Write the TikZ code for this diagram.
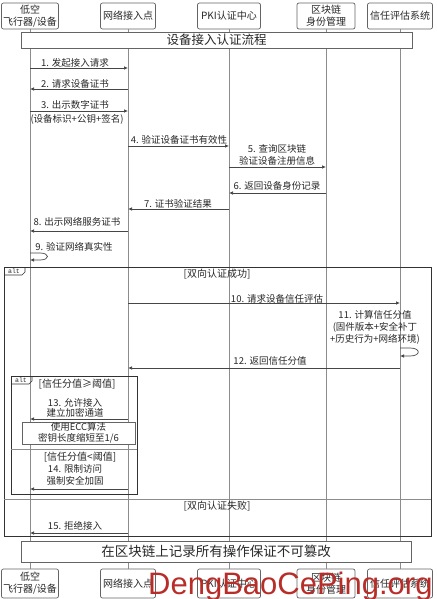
\documentclass[tikz,border=0pt]{standalone}
\usepackage{fontspec}
\setmainfont{Noto Sans CJK SC}
\newfontfamily\wmfont{Liberation Sans}
\newfontfamily\tagfont{Liberation Mono}
\usetikzlibrary{arrows.meta}
\definecolor{lifegray}{RGB}{140,140,140}
\definecolor{boxgray}{RGB}{100,100,100}
\definecolor{msggray}{RGB}{70,70,70}
\definecolor{framegray}{RGB}{50,50,50}
\definecolor{txt}{RGB}{40,40,40}
\definecolor{wmred}{RGB}{185,45,40}
\tikzset{
  part/.style={draw=boxgray, line width=0.7pt, rounded corners=2pt, fill=white, align=center,
    inner sep=0pt, text=txt, font=\fontsize{10}{12}\selectfont},
  life/.style={draw=lifegray, line width=0.8pt},
  msg/.style={draw=msggray, line width=0.7pt, -{Latex[length=4pt,width=3.5pt]}},
  lbl/.style={inner sep=0pt, align=center, text=txt, font=\fontsize{9.5}{12}\selectfont},
  frm/.style={draw=framegray, line width=0.7pt},
  sep/.style={draw=lifegray, line width=0.7pt},
  banner/.style={draw=boxgray, line width=0.7pt, fill=white, inner sep=0pt, text=txt},
  guard/.style={inner sep=0pt, text=txt, font=\fontsize{10}{12}\selectfont},
  tagtxt/.style={inner sep=0pt, text=txt, font=\tagfont\fontsize{6.5}{7}\selectfont}
}
\begin{document}
\begin{tikzpicture}[x=1pt,y=-1pt]
\useasboundingbox[fill=white] (0,0) rectangle (436,599);

% participants top
\node[part, minimum width=57, minimum height=26] (devT) at (30,16) {低空\\飞行器/设备};
\node[part, minimum width=55, minimum height=26] (netT) at (128,16) {网络接入点};
\node[part, minimum width=63, minimum height=26] (pkiT) at (229,16) {PKI认证中心};
\node[part, minimum width=58, minimum height=26] (bcT) at (326,16) {区块链\\身份管理};
\node[part, minimum width=65, minimum height=26] (trT) at (400,16) {信任评估系统};
% participants bottom
\node[part, minimum width=57, minimum height=29] (devB) at (30,583.5) {低空\\飞行器/设备};
\node[part, minimum width=55, minimum height=29] (netB) at (128,583.5) {网络接入点};
\node[part, minimum width=63, minimum height=29] (pkiB) at (229,583.5) {PKI认证中心};
\node[part, minimum width=58, minimum height=29] (bcB) at (326,583.5) {区块链\\身份管理};
\node[part, minimum width=65, minimum height=29] (trB) at (400,583.5) {信任评估系统};

% lifelines
\draw[life] (devT.south) -- (devB.north);
\draw[life] (netT.south) -- (netB.north);
\draw[life] (pkiT.south) -- (pkiB.north);
\draw[life] (bcT.south) -- (bcB.north);
\draw[life] (trT.south) -- (trB.north);

% title banner
\node[banner, minimum width=391, minimum height=16, font=\fontsize{12.5}{14}\selectfont] (title) at (216.5,40) {设备接入认证流程};

% messages 1-9
\draw[msg] (devT.south |- 0,68) -- (netT.south |- 0,68);
\node[lbl] (l1) at (75,63) {1. 发起接入请求};
\draw[msg] (netT.south |- 0,89) -- (devT.south |- 0,89);
\node[lbl] (l2) at (75,83.5) {2. 请求设备证书};
\draw[msg] (devT.south |- 0,111) -- (netT.south |- 0,111);
\node[lbl] (l3) at (75,104.5) {3. 出示数字证书};
\node[lbl] (l3b) at (77,119.5) {(设备标识+公钥+签名)};
\draw[msg] (netT.south |- 0,146) -- (pkiT.south |- 0,146);
\node[lbl] (l4) at (179,139.5) {4. 验证设备证书有效性};
\draw[msg] (pkiT.south |- 0,167) -- (bcT.south |- 0,167);
\node[lbl] (l5) at (277,154.5) {5. 查询区块链\\验证设备注册信息};
\draw[msg] (bcT.south |- 0,193) -- (pkiT.south |- 0,193);
\node[lbl] (l6) at (277,185.5) {6. 返回设备身份记录};
\draw[msg] (pkiT.south |- 0,209) -- (netT.south |- 0,209);
\node[lbl] (l7) at (178,203.5) {7. 证书验证结果};
\draw[msg] (netT.south |- 0,231) -- (devT.south |- 0,231);
\node[lbl] (l8) at (77,221.5) {8. 出示网络服务证书};
\draw[msg] (devT.south |- 0,253) -- (40,253) .. controls (50,253) and (50,260) .. (40,260) -- (devT.south |- 0,260);
\node[lbl] (l9) at (74,246.5) {9. 验证网络真实性};

% outer alt
\draw[frm] (4,267) rectangle (431,536);
\draw[frm] (4,275) -- (22,275) -- (25,272) -- (25,267);
\node[tagtxt] (tag1) at (14,271) {alt};
\node[guard] (g1) at (217,274) {[双向认证成功]};

\draw[msg] (netT.south |- 0,303) -- (trT.south |- 0,303);
\node[lbl] (l10) at (277,298.5) {10. 请求设备信任评估};
\draw[msg] (trT.south |- 0,348) -- (410,348) .. controls (421,348) and (421,356) .. (410,356) -- (trT.south |- 0,356);
\node[lbl] (l11) at (375,327.5) {11. 计算信任分值\\(固件版本+安全补丁\\+历史行为+网络环境)};
\draw[msg] (trT.south |- 0,368) -- (netT.south |- 0,368);
\node[lbl] (l12) at (270,360.5) {12. 返回信任分值};

% inner alt
\draw[frm] (11,376) rectangle (137,494);
\draw[frm] (11,384) -- (29,384) -- (32,381) -- (32,376);
\node[tagtxt] (tag2) at (21,380) {alt};
\node[guard] (g2) at (77,384) {[信任分值≥阈值]};
\draw[msg] (netT.south |- 0,419) -- (devT.south |- 0,419);
\node[lbl, font=\fontsize{9.5}{10.5}\selectfont] (l13) at (75,408) {13. 允许接入\\建立加密通道};
\node[banner, minimum width=113, minimum height=22, align=center, font=\fontsize{9.5}{11}\selectfont] (note1) at (78.5,433) {使用ECC算法\\密钥长度缩短至1/6};
\draw[sep] (11,449) -- (137,449);
\node[guard] (g3) at (80,457) {[信任分值<阈值]};
\draw[msg] (netT.south |- 0,489) -- (devT.south |- 0,489);
\node[lbl] (l14) at (75,475) {14. 限制访问\\强制安全加固};

% outer else
\draw[sep] (4,499) -- (431,499);
\node[guard] (g4) at (217,506) {[双向认证失败]};
\draw[msg] (netT.south |- 0,533) -- (devT.south |- 0,533);
\node[lbl] (l15) at (75,525.5) {15. 拒绝接入};

% bottom banner
\node[banner, minimum width=390, minimum height=21, font=\fontsize{13.5}{15}\selectfont] (note2) at (216,551.5) {在区块链上记录所有操作保证不可篡改};

% watermark
\node[anchor=base west, inner sep=0pt, text=wmred, font=\wmfont\fontsize{31}{31}\selectfont] (wm) at (148,594) {DengBaoCePing.org};
\end{tikzpicture}
\end{document}
